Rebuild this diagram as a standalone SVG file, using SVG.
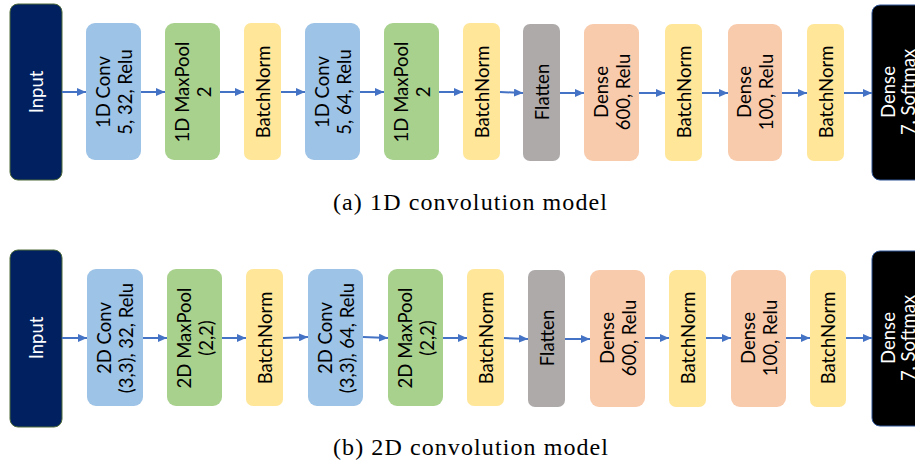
<svg xmlns="http://www.w3.org/2000/svg" width="915" height="468" viewBox="0 0 915 468">
<defs>
<marker id="ah" markerUnits="userSpaceOnUse" markerWidth="9" markerHeight="8" refX="9" refY="4" orient="auto">
<path d="M0,0 L9,4 L0,8 Z" fill="#4472C4"/>
</marker>
<style>
.lbl{font-family:Lato,"Open Sans","Noto Sans",sans-serif;font-size:18.5px;text-anchor:middle;dominant-baseline:central;fill:#000}
.wht{fill:#fff}
.cap{font-family:"Liberation Serif","Times New Roman",serif;font-size:24px;fill:#000}
.conv{fill:#9DC3E6}
.pool{fill:#A9D18E}
.bn{fill:#FFE699}
.flat{fill:#AEAAAA}
.dense{fill:#F8CBAD}
.inp{fill:#002060;stroke:#4E6B3A;stroke-width:1}
.out{fill:#000;stroke:#2F5597;stroke-width:1}
.arr{stroke:#4472C4;stroke-width:2;fill:none;marker-end:url(#ah)}
</style>
</defs>
<rect width="915" height="468" fill="#fff"/>

<!-- Panel (a) -->
<g id="a-input"><rect class="inp" x="10" y="4" width="52" height="176" rx="8"/><text class="lbl wht" transform="translate(36,92) rotate(-90)">Input</text></g>
<g id="a-conv1"><rect class="conv" x="86" y="23" width="55" height="137" rx="9"/><text class="lbl" transform="translate(113.5,92) rotate(-90)"><tspan x="0" y="-11">1D Conv</tspan><tspan x="0" y="11">5, 32, Relu</tspan></text></g>
<g id="a-pool1"><rect class="pool" x="165" y="23" width="55" height="137" rx="9"/><text class="lbl" transform="translate(192.5,92) rotate(-90)"><tspan x="0" y="-11">1D MaxPool</tspan><tspan x="0" y="11">2</tspan></text></g>
<g id="a-bn1"><rect class="bn" x="244" y="23" width="37" height="137" rx="7"/><text class="lbl" transform="translate(262.5,92) rotate(-90)">BatchNorm</text></g>
<g id="a-conv2"><rect class="conv" x="305" y="23" width="55" height="137" rx="9"/><text class="lbl" transform="translate(332.5,92) rotate(-90)"><tspan x="0" y="-11">1D Conv</tspan><tspan x="0" y="11">5, 64, Relu</tspan></text></g>
<g id="a-pool2"><rect class="pool" x="384" y="23" width="55" height="137" rx="9"/><text class="lbl" transform="translate(411.5,92) rotate(-90)"><tspan x="0" y="-11">1D MaxPool</tspan><tspan x="0" y="11">2</tspan></text></g>
<g id="a-bn2"><rect class="bn" x="463" y="23" width="37" height="137" rx="7"/><text class="lbl" transform="translate(481.5,92) rotate(-90)">BatchNorm</text></g>
<g id="a-flat"><rect class="flat" x="523" y="24" width="37" height="137" rx="7"/><text class="lbl" transform="translate(541.5,92) rotate(-90)">Flatten</text></g>
<g id="a-dense1"><rect class="dense" x="584" y="24" width="55" height="137" rx="9"/><text class="lbl" transform="translate(611.5,92) rotate(-90)"><tspan x="0" y="-11">Dense</tspan><tspan x="0" y="11">600, Relu</tspan></text></g>
<g id="a-bn3"><rect class="bn" x="665" y="24" width="37" height="137" rx="7"/><text class="lbl" transform="translate(683.5,92) rotate(-90)">BatchNorm</text></g>
<g id="a-dense2"><rect class="dense" x="728" y="24" width="54" height="137" rx="9"/><text class="lbl" transform="translate(755,92) rotate(-90)"><tspan x="0" y="-11">Dense</tspan><tspan x="0" y="11">100, Relu</tspan></text></g>
<g id="a-bn4"><rect class="bn" x="807" y="24" width="37" height="137" rx="7"/><text class="lbl" transform="translate(825.5,92) rotate(-90)">BatchNorm</text></g>
<g id="a-out"><rect class="out" x="872" y="5" width="52" height="175" rx="8"/><text class="lbl wht" transform="translate(898,92) rotate(-90)"><tspan x="0" y="-10">Dense</tspan><tspan x="0" y="10">7, Softmax</tspan></text></g>

<!-- Panel (b) -->
<g id="b-input"><rect class="inp" x="10" y="250" width="52" height="177" rx="8"/><text class="lbl wht" transform="translate(36,338) rotate(-90)">Input</text></g>
<g id="b-conv1"><rect class="conv" x="87" y="269" width="56" height="137" rx="9"/><text class="lbl" transform="translate(115,338) rotate(-90)"><tspan x="0" y="-11">2D Conv</tspan><tspan x="0" y="11">(3,3), 32, Relu</tspan></text></g>
<g id="b-pool1"><rect class="pool" x="167" y="269" width="55" height="137" rx="9"/><text class="lbl" transform="translate(194.5,338) rotate(-90)"><tspan x="0" y="-11">2D MaxPool</tspan><tspan x="0" y="11">(2,2)</tspan></text></g>
<g id="b-bn1"><rect class="bn" x="246" y="269" width="37" height="137" rx="7"/><text class="lbl" transform="translate(264.5,338) rotate(-90)">BatchNorm</text></g>
<g id="b-conv2"><rect class="conv" x="308" y="269" width="55" height="137" rx="9"/><text class="lbl" transform="translate(335.5,338) rotate(-90)"><tspan x="0" y="-11">2D Conv</tspan><tspan x="0" y="11">(3,3), 64, Relu</tspan></text></g>
<g id="b-pool2"><rect class="pool" x="388" y="269" width="55" height="137" rx="9"/><text class="lbl" transform="translate(415.5,338) rotate(-90)"><tspan x="0" y="-11">2D MaxPool</tspan><tspan x="0" y="11">(2,2)</tspan></text></g>
<g id="b-bn2"><rect class="bn" x="467" y="269" width="37" height="137" rx="7"/><text class="lbl" transform="translate(485.5,338) rotate(-90)">BatchNorm</text></g>
<g id="b-flat"><rect class="flat" x="528" y="270" width="37" height="137" rx="7"/><text class="lbl" transform="translate(546.5,338) rotate(-90)">Flatten</text></g>
<g id="b-dense1"><rect class="dense" x="590" y="270" width="55" height="137" rx="9"/><text class="lbl" transform="translate(617.5,338) rotate(-90)"><tspan x="0" y="-11">Dense</tspan><tspan x="0" y="11">600, Relu</tspan></text></g>
<g id="b-bn3"><rect class="bn" x="669" y="270" width="37" height="137" rx="7"/><text class="lbl" transform="translate(687.5,338) rotate(-90)">BatchNorm</text></g>
<g id="b-dense2"><rect class="dense" x="731" y="270" width="55" height="137" rx="9"/><text class="lbl" transform="translate(758.5,338) rotate(-90)"><tspan x="0" y="-11">Dense</tspan><tspan x="0" y="11">100, Relu</tspan></text></g>
<g id="b-bn4"><rect class="bn" x="810" y="270" width="36" height="137" rx="7"/><text class="lbl" transform="translate(828,338) rotate(-90)">BatchNorm</text></g>
<g id="b-out"><rect class="out" x="872" y="251" width="52" height="175" rx="8"/><text class="lbl wht" transform="translate(898,338) rotate(-90)"><tspan x="0" y="-10">Dense</tspan><tspan x="0" y="10">7, Softmax</tspan></text></g>

<g id="connectors">
<line class="arr" x1="62" y1="92" x2="86" y2="92"/>
<line class="arr" x1="141" y1="92" x2="165" y2="92"/>
<line class="arr" x1="220" y1="92" x2="244" y2="92"/>
<line class="arr" x1="281" y1="92" x2="305" y2="92"/>
<line class="arr" x1="360" y1="92" x2="384" y2="92"/>
<line class="arr" x1="439" y1="92" x2="463" y2="92"/>
<line class="arr" x1="500" y1="92" x2="523" y2="93"/>
<line class="arr" x1="560" y1="93" x2="584" y2="93"/>
<line class="arr" x1="639" y1="93" x2="665" y2="93"/>
<line class="arr" x1="702" y1="93" x2="728" y2="93"/>
<line class="arr" x1="782" y1="93" x2="807" y2="93"/>
<line class="arr" x1="844" y1="93" x2="872" y2="93"/>

<line class="arr" x1="62" y1="338" x2="87" y2="338"/>
<line class="arr" x1="143" y1="338" x2="167" y2="338"/>
<line class="arr" x1="222" y1="338" x2="246" y2="338"/>
<line class="arr" x1="283" y1="338" x2="308" y2="337"/>
<line class="arr" x1="363" y1="337" x2="388" y2="338"/>
<line class="arr" x1="443" y1="338" x2="467" y2="338"/>
<line class="arr" x1="504" y1="338" x2="528" y2="339"/>
<line class="arr" x1="565" y1="339" x2="590" y2="339"/>
<line class="arr" x1="645" y1="338" x2="669" y2="338"/>
<line class="arr" x1="706" y1="338" x2="731" y2="338"/>
<line class="arr" x1="786" y1="338" x2="810" y2="338"/>
<line class="arr" x1="846" y1="338" x2="872" y2="338"/>
</g>

<text class="cap" x="333" y="210" textLength="274" lengthAdjust="spacing">(a) 1D convolution model</text>
<text class="cap" x="333" y="455" textLength="275" lengthAdjust="spacing">(b) 2D convolution model</text>
</svg>
